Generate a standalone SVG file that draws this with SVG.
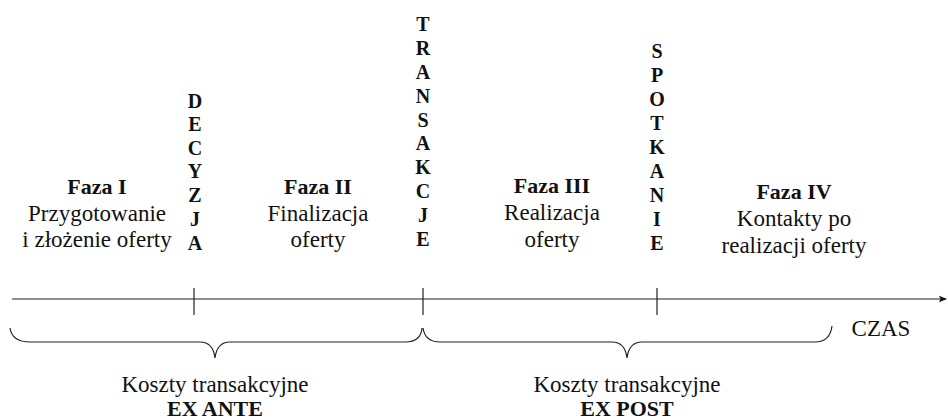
<svg xmlns="http://www.w3.org/2000/svg" width="948" height="419" viewBox="0 0 948 419">
  <style>
    text { font-family: 'Liberation Serif', 'Times New Roman', serif; font-size: 23px; fill: #111; text-anchor: middle; }
    .b { font-weight: bold; font-size: 22px; }
    .v { font-weight: bold; font-size: 20px; }
    .ln { stroke: #222; stroke-width: 1.2; fill: none; }
  </style>
  <defs>
    <marker id="arrow" markerWidth="8" markerHeight="8" refX="7" refY="4" orient="auto" markerUnits="userSpaceOnUse">
      <path d="M0,0.8 L8,4 L0,7.2 L1.5,4 Z" fill="#111"/>
    </marker>
  </defs>

  <!-- time axis, milestones and cost braces -->
  <g id="connectors">
    <line class="ln" x1="12" y1="299" x2="946" y2="299" marker-end="url(#arrow)"/>
    <line class="ln" x1="194" y1="288" x2="194" y2="315"/>
    <line class="ln" x1="423" y1="288" x2="423" y2="315"/>
    <line class="ln" x1="657" y1="288" x2="657" y2="315"/>
    <path class="ln" d="M10,328 Q12,342 30,342 L200,342 Q213,342 215,358 Q217,342 230,342 L405,342 Q421,342 422,328"/>
    <path class="ln" d="M423,328 Q425,342 440,342 L612,342 Q625,342 627,358 Q629,342 642,342 L815,342 Q830,342 832,326"/>
  </g>

  <g id="faza1">
    <text class="b" x="97" y="194">Faza I</text>
    <text x="97" y="221">Przygotowanie</text>
    <text x="97" y="247">i złożenie oferty</text>
  </g>
  <g id="faza2">
    <text class="b" x="318" y="194">Faza II</text>
    <text x="318" y="221">Finalizacja</text>
    <text x="318" y="247">oferty</text>
  </g>
  <g id="faza3">
    <text class="b" x="552" y="193">Faza III</text>
    <text x="552" y="220">Realizacja</text>
    <text x="552" y="247">oferty</text>
  </g>
  <g id="faza4">
    <text class="b" x="794" y="199">Faza IV</text>
    <text x="794" y="226">Kontakty po</text>
    <text x="794" y="253">realizacji oferty</text>
  </g>

  <g id="decyzja">
    <text class="v" x="195" y="108">D</text>
    <text class="v" x="195" y="131">E</text>
    <text class="v" x="195" y="155">C</text>
    <text class="v" x="195" y="178">Y</text>
    <text class="v" x="195" y="202">Z</text>
    <text class="v" x="195" y="226">J</text>
    <text class="v" x="195" y="250">A</text>
  </g>
  <g id="transakcje">
    <text class="v" x="423" y="31">T</text>
    <text class="v" x="423" y="55">R</text>
    <text class="v" x="423" y="79">A</text>
    <text class="v" x="423" y="103">N</text>
    <text class="v" x="423" y="127">S</text>
    <text class="v" x="423" y="150">A</text>
    <text class="v" x="423" y="174">K</text>
    <text class="v" x="423" y="198">C</text>
    <text class="v" x="423" y="222">J</text>
    <text class="v" x="423" y="246">E</text>
  </g>
  <g id="spotkanie">
    <text class="v" x="657" y="58">S</text>
    <text class="v" x="657" y="82">P</text>
    <text class="v" x="657" y="106">O</text>
    <text class="v" x="657" y="130">T</text>
    <text class="v" x="657" y="154">K</text>
    <text class="v" x="657" y="178">A</text>
    <text class="v" x="657" y="202">N</text>
    <text class="v" x="657" y="226">I</text>
    <text class="v" x="657" y="250">E</text>
  </g>

  <g id="czas">
    <text x="881" y="336">CZAS</text>
  </g>
  <g id="ex-ante">
    <text x="215" y="392">Koszty transakcyjne</text>
    <text class="b" x="215" y="416">EX ANTE</text>
  </g>
  <g id="ex-post">
    <text x="627" y="392">Koszty transakcyjne</text>
    <text class="b" x="627" y="416">EX POST</text>
  </g>
</svg>
